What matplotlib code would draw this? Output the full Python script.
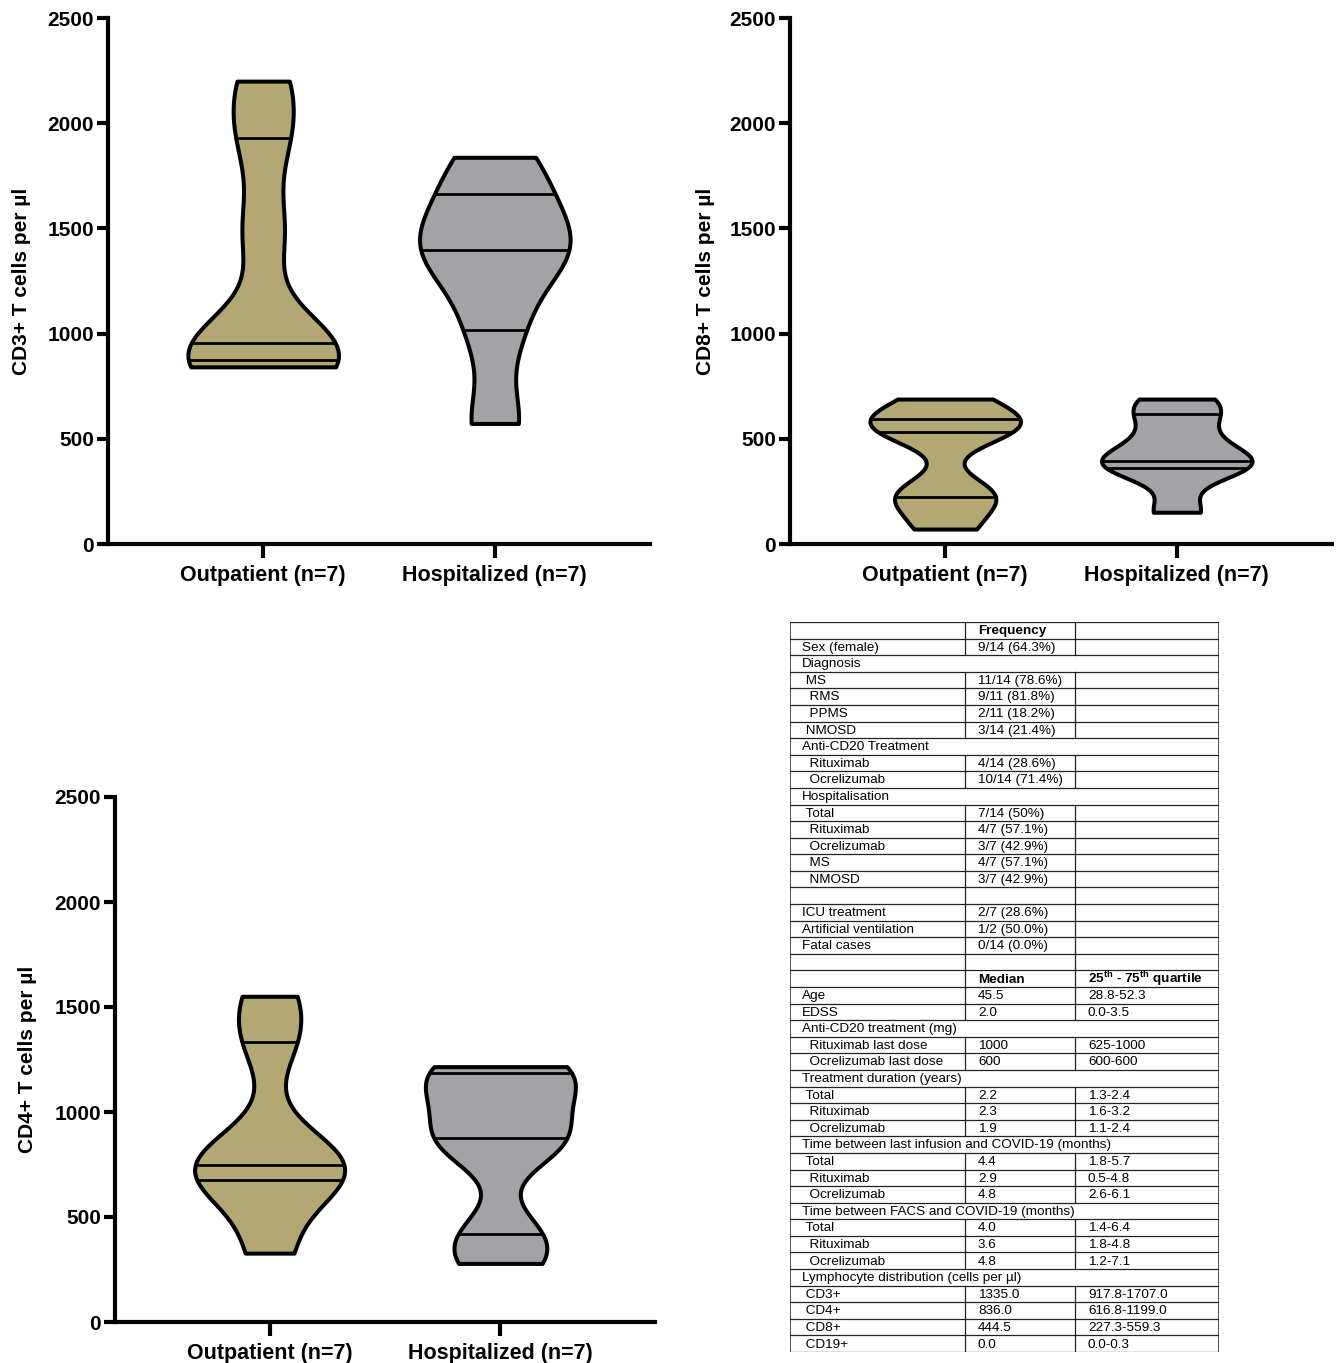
import numpy as np
import matplotlib
matplotlib.use("Agg")
import matplotlib.pyplot as plt

plt.rcParams["font.family"] = ["Liberation Sans", "DejaVu Sans"]
plt.rcParams["mathtext.fontset"] = "custom"
plt.rcParams["mathtext.rm"] = "Liberation Sans"
plt.rcParams["mathtext.bf"] = "Liberation Sans:bold"

# ---- violin data (cells per ul) ----
groups = ["Outpatient (n=7)", "Hospitalized (n=7)"]
cd3_out = [842, 873, 910, 956, 1480, 1929, 2200]
cd3_hosp = [573, 1018, 1320, 1396, 1480, 1664, 1838]
cd8_out = [71, 222, 240, 534, 560, 594, 689]
cd8_hosp = [151, 360, 380, 395, 494, 617, 689]
cd4_out = [328, 676, 710, 746, 790, 1335, 1551]
cd4_hosp = [279, 421, 840, 876, 1050, 1186, 1216]
y_labels = ["CD3+ T cells per µl", "CD8+ T cells per µl", "CD4+ T cells per µl"]
y_ticks = [0, 500, 1000, 1500, 2000, 2500]

# ---- table ----
tab_labels = ["", "Sex (female)", "Diagnosis", " MS", "  RMS", "  PPMS", " NMOSD",
              "Anti-CD20 Treatment", "  Rituximab", "  Ocrelizumab", "Hospitalisation",
              " Total", "  Rituximab", "  Ocrelizumab", "  MS", "  NMOSD", "",
              "ICU treatment", "Artificial ventilation", "Fatal cases", "", "",
              "Age", "EDSS", "Anti-CD20 treatment (mg)", "  Rituximab last dose",
              "  Ocrelizumab last dose", "Treatment duration (years)", " Total", "  Rituximab",
              "  Ocrelizumab", "Time between last infusion and COVID-19 (months)", " Total",
              "  Rituximab", "  Ocrelizumab", "Time between FACS and COVID-19 (months)",
              " Total", "  Rituximab", "  Ocrelizumab", "Lymphocyte distribution (cells per µl)",
              " CD3+", " CD4+", " CD8+", " CD19+"]
tab_col2 = ["Frequency", "9/14 (64.3%)", None, "11/14 (78.6%)", "9/11 (81.8%)", "2/11 (18.2%)",
            "3/14 (21.4%)", None, "4/14 (28.6%)", "10/14 (71.4%)", None, "7/14 (50%)",
            "4/7 (57.1%)", "3/7 (42.9%)", "4/7 (57.1%)", "3/7 (42.9%)", "", "2/7 (28.6%)",
            "1/2 (50.0%)", "0/14 (0.0%)", "", "Median", "45.5", "2.0", None, "1000", "600", None,
            "2.2", "2.3", "1.9", None, "4.4", "2.9", "4.8", None, "4.0", "3.6", "4.8", None,
            "1335.0", "836.0", "444.5", "0.0"]
tab_col3 = ["", "", None, "", "", "", "", None, "", "", None, "", "", "", "", "", "", "", "",
            "", "", r"25$^{\mathbf{th}}$ - 75$^{\mathbf{th}}$ quartile", "28.8-52.3", "0.0-3.5",
            None, "625-1000", "600-600", None, "1.3-2.4", "1.6-3.2", "1.1-2.4", None, "1.8-5.7",
            "0.5-4.8", "2.6-6.1", None, "1.4-6.4", "1.8-4.8", "1.2-7.1", None, "917.8-1707.0",
            "616.8-1199.0", "227.3-559.3", "0.0-0.3"]
bold_rows = [0, 21]

OUT_C, HOSP_C = "#b3a873", "#a2a2a7"
HALF_W, BW = 0.325, 0.14
W, H = 1340, 1363


def violin(ax, x, data, color):
    d = np.asarray(data, float)
    h = BW * (d.max() - d.min())
    y = np.linspace(d.min(), d.max(), 400)
    dens = np.exp(-0.5 * ((y[:, None] - d[None, :]) / h) ** 2).sum(1)
    w = HALF_W * dens / dens.max()
    ax.fill_betweenx(y, x - w, x + w, facecolor=color, edgecolor="black", lw=2.9,
                     joinstyle="round", zorder=3)
    for q in np.percentile(d, [25, 50, 75], method="weibull"):
        wq = np.interp(q, y, w)
        ax.plot([x - wq, x + wq], [q, q], color="black", lw=2.0, zorder=4)


def violin_panel(fig, box, out, hosp, ylab, labx):
    l, t, r, b = box
    ax = fig.add_axes([l / W, 1 - b / H, (r - l) / W, (b - t) / H])
    violin(ax, 0, out, OUT_C)
    violin(ax, 1, hosp, HOSP_C)
    ax.set_xlim(-0.67, 1.67); ax.set_ylim(0, 2500)
    ax.set_yticks(y_ticks)
    ax.set_xticks([0, 1]); ax.set_xticklabels(groups, fontsize=15.5, fontweight="bold")
    for s in ("top", "right"):
        ax.spines[s].set_visible(False)
    for s in ("left", "bottom"):
        ax.spines[s].set_linewidth(3.0)
    ax.tick_params(axis="y", length=8, width=3.0, labelsize=15, pad=2)
    ax.tick_params(axis="x", length=10, width=3.0, pad=5)
    for tl in ax.get_yticklabels():
        tl.set_fontweight("bold")
    ax.set_ylabel(ylab, fontsize=15, fontweight="bold")
    ax.yaxis.set_label_coords(labx, 0.5)
    return ax


def main():
    fig = plt.figure(figsize=(W / 100, H / 100), dpi=100)
    violin_panel(fig, (108, 18, 650, 544), cd3_out, cd3_hosp, y_labels[0], -0.142)
    violin_panel(fig, (790, 18, 1332, 544), cd8_out, cd8_hosp, y_labels[1], -0.138)
    violin_panel(fig, (115, 797, 655, 1322), cd4_out, cd4_hosp, y_labels[2], -0.144)

    # table drawn in pixel-like units
    tl, tt, tr, tb = 790, 622, 1219, 1352
    ta = fig.add_axes([tl / W, 1 - tb / H, (tr - tl) / W, (tb - tt) / H])
    n = len(tab_labels)
    ta.set_xlim(0, tr - tl); ta.set_ylim(n, 0); ta.axis("off")
    c1, c2 = 175, 285
    for i in range(n + 1):
        ta.plot([0, tr - tl], [i, i], color="#222222", lw=0.9)
    ta.plot([0, 0], [0, n], color="#222222", lw=1.1)
    ta.plot([tr - tl, tr - tl], [0, n], color="#222222", lw=1.1)
    for i in range(n):
        if tab_col2[i] is not None:
            ta.plot([c1, c1], [i, i + 1], color="#222222", lw=0.9)
            ta.plot([c2, c2], [i, i + 1], color="#222222", lw=0.9)
        fw = "bold" if i in bold_rows else "normal"
        ta.text(12, i + 0.55, tab_labels[i], fontsize=9.7, va="center")
        if tab_col2[i]:
            ta.text(c1 + 13, i + 0.55, tab_col2[i], fontsize=9.7, va="center", fontweight=fw)
        if tab_col3[i]:
            ta.text(c2 + 13, i + 0.55, tab_col3[i], fontsize=9.7, va="center", fontweight=fw)

    fig.savefig("out.png", dpi=100)
    plt.close(fig)


if __name__ == "__main__":
    main()
